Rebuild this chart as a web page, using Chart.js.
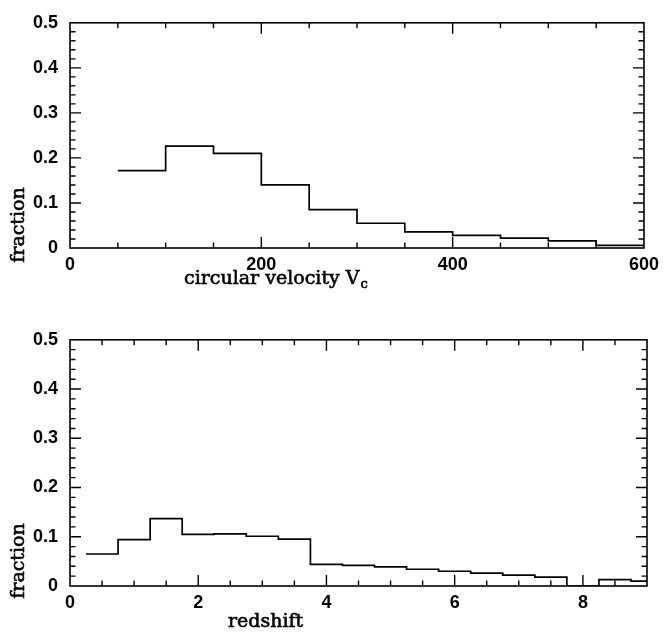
<!DOCTYPE html>
<html>
<head>
<meta charset="utf-8">
<script src="https://cdn.jsdelivr.net/npm/chart.js@4.4.1/dist/chart.umd.min.js"></script>
<style>
  html, body { margin: 0; padding: 0; background: #fff; }
  #wrap { position: relative; width: 665px; height: 634px; }
  canvas { position: absolute; left: 0; }
</style>
</head>
<body>
<div id="wrap">
  <canvas id="velChart" width="665" height="317" style="top:0"></canvas>
  <canvas id="zChart" width="665" height="317" style="top:317px"></canvas>
</div>
<script>
// ---- top panel: circular velocity histogram ----
const velEdges = [50, 100, 150, 200, 250, 300, 350, 400, 450, 500, 550];
const velFrac  = [0.172, 0.226, 0.210, 0.140, 0.085, 0.055, 0.036, 0.028, 0.022, 0.016, 0.006];
const velEnd   = 600;
const velTicks = [0, 200, 400, 600];

// ---- bottom panel: redshift histogram ----
const zEdges = [0.25, 0.75, 1.25, 1.75, 2.25, 2.75, 3.25, 3.75, 4.25, 4.75, 5.25, 5.75, 6.25, 6.75, 7.25, 7.75, 8.25, 8.75];
const zFrac  = [0.065, 0.094, 0.137, 0.105, 0.106, 0.101, 0.095, 0.044, 0.042, 0.039, 0.034, 0.030, 0.026, 0.022, 0.018, 0.0, 0.013, 0.010];
const zEnd   = 9.0;
const zTicks = [0, 2, 4, 6, 8];

const fracTicks = [0, 0.1, 0.2, 0.3, 0.4, 0.5];

const tickFont = { family: 'Liberation Sans', size: 18, weight: 'bold' };
const titleFont = '19px "DejaVu Serif"';

function stepPoints(edges, vals, end) {
  const pts = edges.map((e, i) => ({ x: e, y: vals[i] }));
  pts.push({ x: end, y: vals[vals.length - 1] });
  return pts;
}

// slightly heavier text, like the plotted stroke font
function boldText(ctx, s, x, y) {
  ctx.fillText(s, x, y);
  ctx.lineWidth = 0.6;
  ctx.strokeText(s, x, y);
}

// frame with inward ticks on all four sides, plus axis titles
const framePlugin = {
  id: 'frame',
  afterDraw(chart, args, opts) {
    const { ctx, chartArea: a, scales } = chart;
    const xs = scales.x, ys = scales.y;
    ctx.save();
    ctx.strokeStyle = '#000';
    ctx.lineWidth = 1.6;
    ctx.strokeRect(a.left, a.top, a.right - a.left, a.bottom - a.top);

    ctx.lineWidth = 1.4;
    ctx.beginPath();
    const nx = Math.round((xs.max - xs.min) / opts.xMinor);
    for (let i = 1; i < nx; i++) {
      const v = xs.min + i * opts.xMinor;
      const major = Math.abs(v / opts.xMajor - Math.round(v / opts.xMajor)) < 1e-6;
      const len = major ? 11 : 5.5;
      const px = xs.getPixelForValue(v);
      ctx.moveTo(px, a.bottom); ctx.lineTo(px, a.bottom - len);
      ctx.moveTo(px, a.top); ctx.lineTo(px, a.top + len);
    }
    const ny = Math.round((ys.max - ys.min) / opts.yMinor);
    for (let i = 1; i < ny; i++) {
      const v = ys.min + i * opts.yMinor;
      const major = Math.abs(v / opts.yMajor - Math.round(v / opts.yMajor)) < 1e-6;
      const len = major ? 11 : 5.5;
      const py = ys.getPixelForValue(v);
      ctx.moveTo(a.left, py); ctx.lineTo(a.left + len, py);
      ctx.moveTo(a.right, py); ctx.lineTo(a.right - len, py);
    }
    ctx.stroke();

    // titles
    ctx.fillStyle = '#000';
    ctx.font = titleFont;
    ctx.textBaseline = 'alphabetic';
    ctx.textAlign = 'left';
    boldText(ctx, opts.xTitle, opts.xTitleX, opts.xTitleY);
    if (opts.xSub) {
      const w = ctx.measureText(opts.xTitle).width;
      ctx.font = '13px "DejaVu Serif"';
      boldText(ctx, opts.xSub, opts.xTitleX + w + 1, opts.xTitleY + 4);
    }
    ctx.font = titleFont;
    ctx.translate(opts.yTitleX, opts.yTitleY);
    ctx.rotate(-Math.PI / 2);
    ctx.textAlign = 'center';
    boldText(ctx, 'fraction', 0, 0);
    ctx.restore();
  }
};

function makeChart(id, pts, xMax, xTicks, xMinor, xMajor, top, bottom, titles) {
  const canvas = document.getElementById(id);
  return new Chart(canvas, {
    type: 'line',
    data: {
      datasets: [{
        data: pts,
        stepped: 'before',
        borderColor: '#000',
        borderWidth: 1.7,
        pointRadius: 0,
        fill: false
      }]
    },
    options: {
      responsive: false,
      animation: false,
      layout: { padding: { left: 0, right: 18, top: top, bottom: 0 } },
      plugins: {
        legend: { display: false },
        tooltip: { enabled: false },
        frame: Object.assign({ xMinor, xMajor, yMinor: 0.02, yMajor: 0.1 }, titles)
      },
      scales: {
        x: {
          type: 'linear',
          min: 0,
          max: xMax,
          afterBuildTicks: (s) => { s.ticks = xTicks.map((v) => ({ value: v })); },
          afterFit: (s) => { s.height = canvas.height - bottom; },
          grid: { display: false, drawTicks: false, tickLength: 0 },
          border: { display: false },
          ticks: {
            color: '#000', font: tickFont, padding: 6,
            maxRotation: 0, autoSkip: false,
            callback: (v) => String(v)
          }
        },
        y: {
          min: 0,
          max: 0.5,
          afterBuildTicks: (s) => { s.ticks = fracTicks.map((v) => ({ value: v })); },
          afterFit: (s) => { s.width = 70; },
          grid: { display: false, drawTicks: false, tickLength: 0 },
          border: { display: false },
          ticks: {
            color: '#000', font: tickFont, padding: 12,
            callback: (v) => (v === 0 ? '0' : v.toFixed(1))
          }
        }
      }
    },
    plugins: [framePlugin]
  });
}

makeChart('velChart', stepPoints(velEdges, velFrac, velEnd), 600, velTicks, 50, 200, 11, 248, {
  xTitle: 'circular velocity V', xSub: 'c', xTitleX: 184, xTitleY: 284,
  yTitleX: 24, yTitleY: 225
});

makeChart('zChart', stepPoints(zEdges, zFrac, zEnd), 9, zTicks, 0.5, 2, 15, 269, {
  xTitle: 'redshift', xTitleX: 228, xTitleY: 310,
  yTitleX: 24, yTitleY: 561 - 317
});
</script>
</body>
</html>
